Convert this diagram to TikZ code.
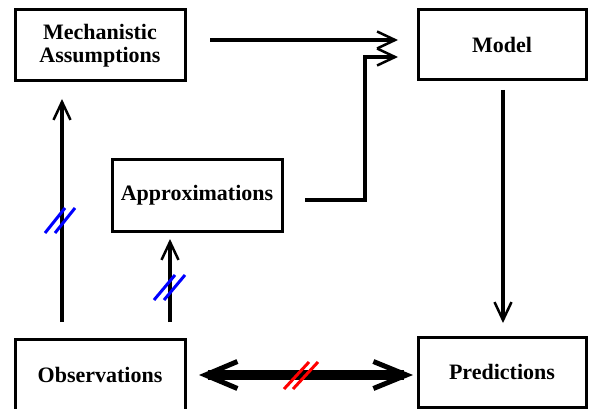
\documentclass[tikz,border=0pt]{standalone}
\usepackage{fontspec}
\setmainfont{Liberation Serif}
\usetikzlibrary{arrows.meta,calc}
\begin{document}
\begin{tikzpicture}[x=1pt,y=-1pt,
  box/.style={draw,line width=3pt,minimum width=170pt,minimum height=71pt,inner sep=0pt,outer sep=0pt,align=center,
    font=\bfseries\fontsize{22}{23}\selectfont},
  arr/.style={line width=4.5pt,line join=miter,-{Straight Barb[length=18pt,width=17pt,line width=2.5pt]}},
  dbl/.style={line width=9.5pt,{Straight Barb[length=32pt,width=27pt,line width=5pt]}-{Straight Barb[length=33pt,width=27pt,line width=5pt]}},
  hashb/.style={draw=blue,line width=3pt},
  hashr/.style={draw=red,line width=3pt}]
\useasboundingbox (0,0) rectangle (589,409);
\node[box] (mech) at (100,45.5) {Mechanistic\\Assumptions};
\node[box,minimum width=168pt,minimum height=70pt] (model) at (502,45) {Model};
\node[box] (approx) at (197,195.5) {Approximations};
\node[box,minimum height=72pt] (obs) at (100,375) {Observations};
\node[box,minimum width=168pt,minimum height=70pt] (pred) at (502,372) {Predictions};
% connectors
\draw[arr] ($(mech.east)+(25,-5.5)$) -- ($(model.west)+(-20,-5)$);
\draw[arr] ($(approx.east)+(23,4.5)$) -| ($(model.west)+(-53,12)$) -- ($(model.west)+(-20,12)$);
\draw[arr] ($(model.south)+(1,10)$) -- ($(pred.north)+(1,-14)$);
\draw[arr] ($(obs.north)+(-38,-17)$) -- ($(mech.south)+(-38,18)$);
\draw[arr] ($(obs.north)+(70,-17)$) -- ($(approx.south)+(-27,8)$);
\draw[dbl] ($(obs.east)+(14,0)$) -- ($(pred.west)+(-5,3)$);
% hash marks
\draw[hashb] (45,233) -- ++(20,-25);
\draw[hashb] (55,233) -- ++(20,-25);
\draw[hashb] (154,300) -- ++(21,-25);
\draw[hashb] (164,300) -- ++(21,-25);
\draw[hashr] (284,389) -- ++(25,-27);
\draw[hashr] (293,389) -- ++(25,-27);
\end{tikzpicture}
\end{document}
